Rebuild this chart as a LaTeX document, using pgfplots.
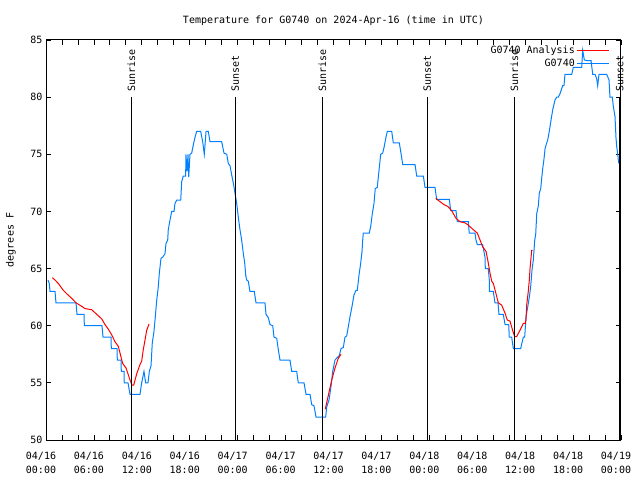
\documentclass[border=0pt]{standalone}
\usepackage{pgfplots}
\pgfplotsset{compat=1.18}
\usepackage{fontspec}
\setmainfont{DejaVu Sans Mono}
\definecolor{gblue}{RGB}{0,128,255}
\begin{document}
\fontsize{10}{12}\selectfont
\begin{tikzpicture}
\useasboundingbox (0,0) rectangle (640pt,480pt);
\begin{axis}[
  at={(46pt,40pt)}, anchor=south west,
  scale only axis, width=575pt, height=400pt,
  xmin=0, xmax=72, ymin=50, ymax=85,
  clip=false,
  xtick={0,6,...,72},
  xticklabels={{04/16\\00:00},{04/16\\06:00},{04/16\\12:00},{04/16\\18:00},{04/17\\00:00},{04/17\\06:00},{04/17\\12:00},{04/17\\18:00},{04/18\\00:00},{04/18\\06:00},{04/18\\12:00},{04/18\\18:00},{04/19\\00:00}},
  minor xtick={2,4,8,10,14,16,20,22,26,28,32,34,38,40,44,46,50,52,56,58,62,64,68,70},
  ytick={50,55,...,85},
  tick align=inside,
  major tick length=5pt, minor tick length=5pt,
  tick style={black, line width=0.8pt},
  axis line style={line width=1pt},
  xticklabel style={align=center, font=\fontsize{10}{14}\selectfont, yshift=-9pt, xshift=-5pt},
  yticklabel style={font=\fontsize{10}{12}\selectfont},
  /pgf/number format/assume math mode=true,
  title={Temperature for G0740 on 2024-Apr-16 (time in UTC)},
  title style={at={(axis description cs:0.5,1)}, anchor=center, yshift=13pt, font=\fontsize{10}{12}\selectfont},
  ylabel={degrees F},
  ylabel style={at={(axis description cs:0,0.5)}, anchor=center, yshift=35pt, font=\fontsize{10}{12}\selectfont},
  legend plot pos=right,
  legend cell align=right,
  legend style={at={(axis description cs:1,1)}, anchor=north east, xshift=-11pt, yshift=-4pt,
    draw=none, fill=none, row sep=0pt, inner sep=0pt,
    font=\fontsize{10}{12.5}\selectfont},
  legend image code/.code={\path (0pt,0pt) -- (4pt,0pt); \draw[#1] (4pt,0pt) -- (32pt,0pt);},
]
% Blue observed series
\addplot[gblue, line width=1pt, forget plot] coordinates {
(0.25,64) (0.41,63.7) (0.5,63) (1.13,63) (1.25,62) (3.76,62) (3.88,61) (4.76,61) (4.8,60)
(7.01,60) (7.14,59) (8.14,59) (8.18,58) (8.89,58) (8.93,57) (9.39,57) (9.43,56) (9.77,56)
(9.8,55) (10.27,55) (10.52,54) (11.77,54) (11.98,55) (12.27,56) (12.48,55) (12.77,55)
(12.94,56) (13.15,56.5) (13.31,58.5) (13.52,59.5) (13.65,60.5) (13.86,62.2) (14.06,63.4)
(14.19,64.6) (14.4,65.9) (14.61,66) (14.9,66.3) (15.03,67.2) (15.24,67.5) (15.31,68.4)
(15.53,69.25) (15.74,70) (16.03,70) (16.15,70.7) (16.37,71) (16.87,71) (16.99,72.6)
(17.19,73.1) (17.49,73.1) (17.52,75) (17.66,73.5) (17.78,75) (17.87,73) (18.03,75)
(18.24,75.1) (18.44,75.8) (18.66,76.5) (18.87,77) (19.37,77) (19.62,76.1) (19.82,75)
(20.04,77) (20.32,77) (20.54,76.1) (22.0,76.1) (22.29,75.1) (22.63,75) (22.83,74.2)
(23.04,74) (23.25,73.2) (23.45,72.5) (23.67,71.6) (23.88,70.7) (24.08,69.5) (24.29,68.4)
(24.5,67.5) (24.71,66.3) (24.88,65.5) (25.01,64.4) (25.13,64) (25.33,63.9) (25.54,63)
(26.08,63) (26.3,62) (27.42,62) (27.55,61) (27.84,60.7) (28.05,60.1) (28.39,60) (28.55,59)
(28.89,58.9) (29.09,57.9) (29.3,57) (30.55,57) (30.77,56) (31.39,56) (31.59,55) (32.31,55)
(32.56,54) (33.06,54) (33.27,53.1) (33.56,53) (33.81,52) (35.02,52) (35.15,52.9)
(35.44,53.5) (35.69,54.7) (35.9,56) (36.19,57) (36.73,57.4) (36.94,58) (37.23,58.1)
(37.44,59) (37.65,59.1) (37.85,59.9) (38.07,60.8) (38.32,61.7) (38.57,62.7) (38.82,63.1)
(38.98,63.1) (39.19,64.4) (39.41,65.5) (39.57,66.5) (39.66,67.5) (39.73,68.1) (40.48,68.1)
(40.66,68.7) (40.86,69.8) (41.07,70.7) (41.23,72) (41.48,72.1) (41.7,73.6) (41.91,75)
(42.16,75.1) (42.36,75.7) (42.57,76.5) (42.74,77) (43.29,77) (43.49,76) (44.24,76)
(44.45,75.1) (44.67,74.1) (46.21,74.1) (46.42,73.1) (47.25,73.1) (47.46,72.1) (48.71,72.1)
(48.92,71.05) (50.5,71.05) (50.68,70.06) (51.34,70.06) (51.5,69.1) (52.88,69.1) (53.0,68.1)
(53.72,68.1) (53.84,67.5) (54.01,67.1) (54.68,67.1) (54.97,66) (55.01,65) (55.38,65)
(55.51,64) (55.53,63) (56.01,63) (56.22,62) (56.6,62) (56.72,61) (57.26,61) (57.48,60.1)
(57.94,60.1) (58.01,59) (58.31,59) (58.52,58) (59.44,58) (59.6,58.5) (59.77,59) (59.94,59)
(60.11,60.8) (60.36,61.8) (60.52,62.5) (60.69,63.4) (60.86,64.9) (61.02,65.75) (61.2,67.5)
(61.32,68) (61.45,69.8) (61.65,70.5) (61.77,71.6) (61.95,72) (62.07,72.9) (62.2,73.75)
(62.36,74.6) (62.49,75.5) (62.61,75.8) (62.82,76.25) (63.02,77) (63.24,78) (63.45,78.9)
(63.74,79.75) (63.95,80) (64.15,80) (64.36,80.3) (64.7,81) (64.86,81) (64.99,82) (65.83,82)
(66.03,82.6) (67.08,82.6) (67.2,84.1) (67.41,83.25) (67.71,83.2) (68.25,83.2) (68.46,82)
(68.75,82) (68.96,81.6) (69.08,81) (69.25,82) (70.21,82) (70.5,81.5) (70.62,80) (70.91,80)
(71.04,79.2) (71.25,78.3) (71.37,76.5) (71.46,75.7) (71.59,75) (71.71,74.2)
};
% Red analysis segments
\addplot[red, line width=1pt, forget plot] coordinates {
(0.79,64.2) (1.13,64.0) (1.54,63.7) (2.17,63.1) (2.59,62.8) (3.22,62.4) (3.76,62) (4.47,61.7)
(4.88,61.5) (5.72,61.4) (6.35,61) (6.97,60.6) (7.39,60.1) (7.8,59.7) (8.23,59.2) (8.64,58.6)
(9.05,58.2) (9.27,57.6) (9.6,56.7) (10.02,56.3) (10.31,55.7) (10.52,55.25) (10.77,54.8)
(10.98,54.8) (11.36,55.8) (11.77,56.6) (11.98,56.9) (12.18,57.9) (12.4,58.75) (12.61,59.6)
(12.9,60.15)
};
\addplot[red, line width=1pt, forget plot] coordinates {
(34.97,52.7) (35.35,53.9) (35.78,55.25) (36.19,56.3) (36.6,57.15) (36.94,57.5)
};
\addplot[red, line width=1pt, forget plot] coordinates {
(48.8,71.15) (49.34,70.85) (49.84,70.6) (50.38,70.4) (50.8,70.06) (51.34,69.4) (51.84,69.1)
(52.47,69.0) (52.88,68.8) (53.51,68.4) (54.01,68.1) (54.35,67.5) (54.68,66.9) (55.1,66.5)
(55.38,65.5) (55.6,64.6) (55.81,63.9) (56.01,63.7) (56.35,62.8) (56.64,62) (57.06,61.8)
(57.48,61.1) (57.76,60.5) (58.1,60.4) (58.43,59.6) (58.68,59.05) (58.94,59.05) (59.35,59.6)
(59.77,60.2) (60.02,60.2) (60.11,60.6) (60.19,61.8) (60.39,63) (60.52,64) (60.61,65)
(60.82,66.6) (60.94,66.6)
};
% Sunrise / sunset markers
\addplot[black, line width=1pt, forget plot] coordinates {(10.68,50) (10.68,80)};
\addplot[black, line width=1pt, forget plot] coordinates {(23.70,50) (23.70,80)};
\addplot[black, line width=1pt, forget plot] coordinates {(34.60,50) (34.60,80)};
\addplot[black, line width=1pt, forget plot] coordinates {(47.75,50) (47.75,80)};
\addplot[black, line width=1pt, forget plot] coordinates {(58.64,50) (58.64,80)};
\addplot[black, line width=1pt, forget plot] coordinates {(71.84,50) (71.84,80)};
\node[rotate=90, anchor=west, inner sep=0pt] at (axis cs:10.68,80.45) {Sunrise};
\node[rotate=90, anchor=west, inner sep=0pt] at (axis cs:23.70,80.45) {Sunset};
\node[rotate=90, anchor=west, inner sep=0pt] at (axis cs:34.60,80.45) {Sunrise};
\node[rotate=90, anchor=west, inner sep=0pt] at (axis cs:47.75,80.45) {Sunset};
\node[rotate=90, anchor=west, inner sep=0pt] at (axis cs:58.64,80.45) {Sunrise};
\node[rotate=90, anchor=west, inner sep=0pt] at (axis cs:71.84,80.45) {Sunset};
\addlegendimage{red, line width=1pt}
\addlegendentry{G0740 Analysis}
\addlegendimage{gblue, line width=1pt}
\addlegendentry{G0740}
\end{axis}
\end{tikzpicture}
\end{document}
